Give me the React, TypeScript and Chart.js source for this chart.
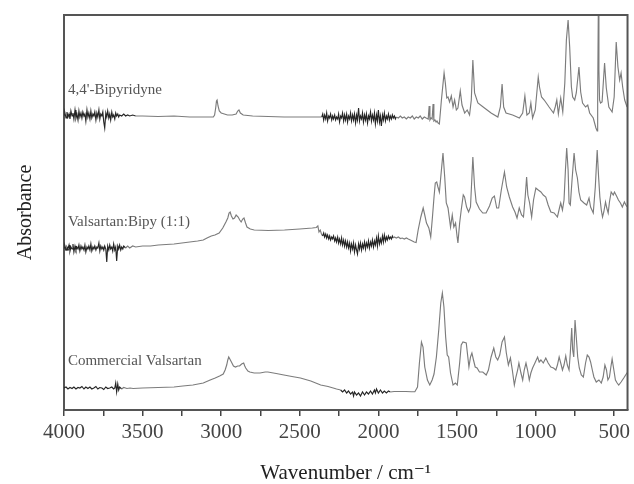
import React, { useEffect, useRef } from "react";
import { Chart, registerables } from "chart.js";

Chart.register(...registerables);

// ---- axis settings (wavenumber, cm-1; absorbance in arbitrary, offset units)
const xMin = 415;
const xMax = 4000;
const xTickStep = 250;
const xLabelStep = 500;
const yMin = 0;
const yMax = 3.95;
const yTickValues = [1.6];

// ---- trace names and label anchors
const seriesNames = ["4,4'-Bipyridyne", "Valsartan:Bipy (1:1)", "Commercial Valsartan"];
const labelWavenumber = 3975;
const labelAbsorbance = [3.2, 1.88, 0.49];

// ---- noisy (dense, dark-looking) wavenumber ranges of each trace
const bipyNoise: [number, number][] = [[4000, 3540], [2365, 1880]];
const cocrystalNoise: [number, number][] = [[4000, 3600], [2360, 1900]];
const valsartanNoise: [number, number][] = [[4000, 3630], [2245, 1920]];

// ---- spectra: [wavenumber, absorbance (offset)]
const bipySpectrum: [number, number][] = [
  [4000, 2.95], [3994, 2.97], [3987, 2.92], [3981, 2.98], [3975, 2.93], [3968, 2.96], [3962, 2.91], [3956, 2.99],
  [3949, 2.94], [3943, 2.97], [3937, 2.91], [3930, 3.0], [3924, 2.92], [3918, 2.96], [3911, 2.9], [3905, 2.99],
  [3899, 2.93], [3892, 2.97], [3886, 2.92], [3880, 2.98], [3873, 2.94], [3867, 2.96], [3861, 2.89], [3854, 3.0],
  [3848, 2.93], [3842, 2.97], [3835, 2.91], [3829, 2.99], [3823, 2.92], [3816, 2.96], [3810, 2.94], [3804, 2.98],
  [3797, 2.9], [3791, 2.97], [3785, 2.93], [3778, 3.0], [3772, 2.91], [3766, 2.96], [3759, 2.94], [3753, 2.98],
  [3747, 2.88], [3741, 2.82], [3734, 2.97], [3728, 2.93], [3722, 2.99], [3715, 2.92], [3709, 2.96], [3703, 2.9],
  [3696, 2.98], [3690, 2.93], [3684, 2.95], [3677, 2.91], [3671, 2.97], [3665, 2.94], [3658, 2.96], [3652, 2.93],
  [3646, 2.95], [3633, 2.94], [3620, 2.96], [3608, 2.94], [3595, 2.95], [3582, 2.94], [3563, 2.95], [3544, 2.94],
  [3500, 2.94], [3400, 2.935], [3300, 2.94], [3200, 2.93], [3100, 2.93], [3050, 2.93], [3042, 2.95], [3035, 3.02],
  [3030, 3.09], [3026, 3.1], [3020, 3.04], [3012, 2.99], [3000, 2.97], [2980, 2.96], [2960, 2.95], [2930, 2.95],
  [2905, 2.96], [2895, 2.99], [2887, 3.0], [2878, 2.97], [2860, 2.95], [2800, 2.94], [2700, 2.935], [2600, 2.93],
  [2500, 2.93], [2420, 2.93], [2360, 2.93], [2354, 2.96], [2348, 2.9], [2342, 2.95], [2335, 2.91], [2329, 2.97],
  [2323, 2.89], [2316, 2.94], [2310, 2.92], [2304, 2.96], [2297, 2.9], [2291, 2.94], [2285, 2.91], [2278, 2.95],
  [2272, 2.9], [2266, 2.93], [2259, 2.91], [2253, 2.96], [2247, 2.88], [2240, 2.94], [2234, 2.92], [2228, 2.97],
  [2221, 2.89], [2215, 2.95], [2209, 2.9], [2202, 2.96], [2196, 2.88], [2190, 2.94], [2183, 2.91], [2177, 2.97],
  [2171, 2.89], [2164, 2.95], [2158, 2.9], [2152, 2.96], [2145, 2.87], [2139, 2.95], [2133, 2.9], [2126, 3.02],
  [2120, 2.89], [2114, 2.94], [2107, 2.91], [2101, 2.97], [2095, 2.88], [2088, 2.95], [2082, 2.9], [2076, 2.96],
  [2069, 2.87], [2063, 2.94], [2057, 2.91], [2050, 2.98], [2044, 2.89], [2038, 2.95], [2031, 2.9], [2025, 2.97],
  [2019, 2.86], [2012, 2.95], [2006, 2.89], [2000, 3.0], [1993, 2.88], [1987, 2.94], [1981, 2.84], [1974, 2.95],
  [1968, 2.9], [1962, 2.97], [1955, 2.89], [1949, 2.94], [1943, 2.91], [1936, 2.96], [1930, 2.9], [1924, 2.94],
  [1917, 2.91], [1911, 2.95], [1905, 2.92], [1898, 2.94], [1892, 2.91], [1886, 2.93], [1873, 2.92], [1860, 2.94],
  [1848, 2.92], [1835, 2.93], [1822, 2.91], [1810, 2.93], [1797, 2.92], [1784, 2.94], [1772, 2.91], [1759, 2.93],
  [1746, 2.92], [1734, 2.94], [1721, 2.91], [1708, 2.93], [1696, 2.92], [1683, 2.91], [1677, 3.04], [1672, 2.9],
  [1665, 2.92], [1658, 2.91], [1652, 3.06], [1647, 2.89], [1640, 2.9], [1633, 2.88], [1627, 2.89], [1620, 2.87],
  [1612, 2.86], [1599, 3.1], [1582, 3.37], [1574, 3.27], [1565, 3.12], [1557, 3.13], [1547, 3.08], [1536, 3.14],
  [1525, 3.03], [1515, 3.1], [1504, 3.0], [1494, 3.02], [1479, 3.19], [1468, 3.05], [1451, 2.97], [1435, 3.0],
  [1420, 2.95], [1409, 3.1], [1399, 3.5], [1388, 3.17], [1367, 3.07], [1325, 3.02], [1283, 2.97], [1240, 2.93],
  [1224, 3.03], [1213, 3.26], [1203, 3.03], [1188, 2.97], [1146, 2.95], [1103, 2.92], [1082, 2.97], [1068, 3.14],
  [1055, 2.95], [1040, 2.97], [1030, 3.07], [1019, 2.92], [1002, 3.0], [983, 3.33], [975, 3.23], [962, 3.13],
  [945, 3.1], [914, 3.03], [886, 2.97], [875, 3.03], [865, 3.1], [855, 2.96], [840, 3.12], [827, 2.98],
  [814, 3.27], [804, 3.7], [793, 3.9], [783, 3.63], [772, 3.23], [764, 3.13], [751, 3.1], [741, 3.17],
  [724, 3.43], [713, 3.18], [701, 3.07], [682, 3.03], [668, 3.05], [656, 2.97], [633, 2.92], [616, 2.82],
  [608, 2.79], [605, 3.1], [601, 3.97], [597, 3.4], [593, 3.1], [587, 3.07], [577, 3.08], [561, 3.47],
  [550, 3.22], [534, 3.03], [513, 2.98], [500, 3.13], [487, 3.68], [476, 3.43], [465, 3.3], [456, 3.37],
  [446, 3.23], [433, 3.1], [418, 3.03],
];

const cocrystalSpectrum: [number, number][] = [
  [4000, 1.62], [3994, 1.64], [3987, 1.6], [3981, 1.63], [3975, 1.61], [3968, 1.65], [3962, 1.59], [3956, 1.63],
  [3949, 1.61], [3943, 1.66], [3937, 1.58], [3930, 1.64], [3924, 1.6], [3918, 1.63], [3911, 1.61], [3905, 1.65],
  [3899, 1.59], [3892, 1.64], [3886, 1.61], [3880, 1.63], [3873, 1.6], [3867, 1.65], [3861, 1.58], [3854, 1.63],
  [3848, 1.61], [3842, 1.64], [3835, 1.6], [3829, 1.66], [3823, 1.59], [3816, 1.63], [3810, 1.61], [3804, 1.64],
  [3797, 1.6], [3791, 1.63], [3785, 1.62], [3778, 1.67], [3772, 1.59], [3766, 1.64], [3759, 1.61], [3753, 1.63],
  [3747, 1.6], [3741, 1.64], [3734, 1.61], [3728, 1.48], [3722, 1.64], [3715, 1.6], [3709, 1.65], [3703, 1.61],
  [3696, 1.63], [3690, 1.59], [3684, 1.66], [3677, 1.6], [3671, 1.63], [3665, 1.49], [3658, 1.64], [3652, 1.61],
  [3646, 1.65], [3639, 1.6], [3633, 1.63], [3626, 1.61], [3620, 1.64], [3608, 1.62], [3595, 1.64], [3582, 1.62],
  [3563, 1.64], [3544, 1.63], [3500, 1.64], [3450, 1.64], [3400, 1.65], [3350, 1.655], [3300, 1.66], [3250, 1.67],
  [3200, 1.68], [3150, 1.69], [3114, 1.7], [3090, 1.72], [3063, 1.74], [3040, 1.75], [3013, 1.77], [2990, 1.82],
  [2970, 1.88], [2958, 1.92], [2950, 1.97], [2943, 1.98], [2935, 1.94], [2925, 1.91], [2915, 1.92], [2905, 1.95],
  [2892, 1.93], [2882, 1.9], [2873, 1.88], [2863, 1.91], [2855, 1.92], [2845, 1.87], [2836, 1.83], [2815, 1.81],
  [2790, 1.8], [2700, 1.795], [2597, 1.8], [2500, 1.81], [2420, 1.82], [2395, 1.825], [2385, 1.84], [2378, 1.78],
  [2370, 1.8], [2362, 1.76], [2355, 1.74], [2348, 1.77], [2342, 1.73], [2335, 1.76], [2329, 1.72], [2323, 1.75],
  [2316, 1.71], [2310, 1.74], [2304, 1.7], [2297, 1.73], [2291, 1.71], [2285, 1.74], [2278, 1.69], [2272, 1.72],
  [2266, 1.68], [2259, 1.73], [2253, 1.67], [2247, 1.71], [2240, 1.66], [2234, 1.72], [2228, 1.65], [2221, 1.7],
  [2215, 1.64], [2209, 1.69], [2202, 1.63], [2196, 1.68], [2190, 1.62], [2183, 1.67], [2177, 1.59], [2171, 1.66],
  [2164, 1.61], [2158, 1.67], [2152, 1.58], [2145, 1.65], [2139, 1.6], [2133, 1.56], [2126, 1.66], [2120, 1.61],
  [2114, 1.67], [2107, 1.6], [2101, 1.66], [2095, 1.62], [2088, 1.68], [2082, 1.61], [2076, 1.67], [2069, 1.63],
  [2063, 1.69], [2057, 1.62], [2050, 1.68], [2044, 1.64], [2038, 1.7], [2031, 1.63], [2025, 1.69], [2019, 1.65],
  [2012, 1.72], [2006, 1.64], [2000, 1.74], [1993, 1.66], [1987, 1.71], [1981, 1.67], [1974, 1.74], [1968, 1.68],
  [1962, 1.75], [1955, 1.69], [1949, 1.73], [1943, 1.7], [1936, 1.74], [1930, 1.71], [1924, 1.73], [1917, 1.71],
  [1911, 1.74], [1905, 1.72], [1898, 1.73], [1886, 1.72], [1873, 1.73], [1860, 1.715], [1848, 1.72], [1835, 1.71],
  [1822, 1.72], [1810, 1.71], [1797, 1.7], [1784, 1.69], [1772, 1.68], [1760, 1.675], [1747, 1.8], [1730, 1.93],
  [1715, 2.02], [1705, 1.95], [1694, 1.87], [1679, 1.82], [1667, 1.73], [1656, 1.93], [1646, 2.13], [1638, 2.27],
  [1629, 2.28], [1621, 2.23], [1612, 2.18], [1599, 2.4], [1589, 2.57], [1578, 2.33], [1568, 2.07], [1557, 2.02],
  [1547, 1.9], [1541, 1.83], [1530, 1.95], [1520, 1.83], [1509, 1.87], [1499, 1.73], [1494, 1.67], [1483, 1.87],
  [1473, 2.0], [1460, 2.15], [1452, 2.13], [1439, 2.03], [1426, 1.98], [1414, 2.03], [1399, 2.53], [1388, 2.23],
  [1378, 2.08], [1357, 2.01], [1336, 1.97], [1315, 1.97], [1293, 2.04], [1276, 2.12], [1262, 2.14], [1247, 2.02],
  [1235, 2.02], [1218, 2.2], [1198, 2.38], [1184, 2.23], [1167, 2.13], [1146, 2.03], [1131, 1.98], [1118, 1.92],
  [1104, 2.02], [1089, 1.95], [1077, 1.93], [1066, 2.13], [1057, 2.33], [1049, 2.15], [1038, 2.07], [1025, 1.93],
  [1013, 2.1], [998, 2.22], [983, 2.2], [966, 2.18], [951, 2.15], [935, 2.13], [920, 2.05], [903, 1.98],
  [882, 1.97], [861, 1.93], [848, 2.02], [840, 2.07], [829, 2.0], [819, 2.1], [810, 2.4], [802, 2.62],
  [793, 2.4], [787, 2.07], [779, 2.05], [768, 2.3], [755, 2.57], [745, 2.4], [734, 2.32], [724, 2.18],
  [713, 2.1], [692, 2.07], [675, 2.05], [660, 2.12], [650, 2.03], [633, 1.97], [620, 2.23], [608, 2.6],
  [599, 2.33], [591, 2.13], [582, 2.0], [574, 1.93], [566, 1.98], [555, 2.08], [547, 2.02], [538, 1.97],
  [530, 2.08], [519, 2.18], [506, 2.15], [498, 2.18], [485, 2.14], [473, 2.1], [460, 2.07], [448, 2.03],
  [435, 2.08], [422, 2.04], [414, 2.03],
];

const valsartanSpectrum: [number, number][] = [
  [4000, 0.22], [3987, 0.23], [3975, 0.21], [3962, 0.225], [3949, 0.215], [3937, 0.23], [3924, 0.21], [3911, 0.225],
  [3899, 0.22], [3886, 0.235], [3873, 0.21], [3861, 0.23], [3848, 0.215], [3835, 0.23], [3823, 0.21], [3810, 0.22],
  [3797, 0.235], [3785, 0.21], [3772, 0.225], [3759, 0.22], [3747, 0.205], [3734, 0.23], [3722, 0.215], [3709, 0.22],
  [3696, 0.23], [3684, 0.21], [3677, 0.22], [3671, 0.27], [3665, 0.18], [3658, 0.26], [3652, 0.2], [3646, 0.23],
  [3633, 0.21], [3620, 0.225], [3600, 0.215], [3580, 0.22], [3560, 0.215], [3500, 0.22], [3400, 0.225], [3300, 0.23],
  [3244, 0.24], [3180, 0.25], [3114, 0.27], [3070, 0.3], [3038, 0.32], [3010, 0.34], [2987, 0.36], [2975, 0.4],
  [2965, 0.45], [2958, 0.5], [2952, 0.53], [2945, 0.51], [2935, 0.48], [2922, 0.44], [2909, 0.43], [2895, 0.44],
  [2883, 0.44], [2870, 0.46], [2857, 0.47], [2850, 0.44], [2844, 0.42], [2830, 0.39], [2818, 0.38], [2790, 0.37],
  [2753, 0.37], [2720, 0.38], [2703, 0.38], [2650, 0.365], [2601, 0.35], [2550, 0.335], [2496, 0.32], [2430, 0.29],
  [2367, 0.25], [2320, 0.235], [2266, 0.21], [2240, 0.2], [2228, 0.18], [2215, 0.2], [2202, 0.17], [2190, 0.19],
  [2177, 0.16], [2164, 0.18], [2158, 0.14], [2152, 0.18], [2139, 0.15], [2126, 0.17], [2114, 0.14], [2101, 0.18],
  [2088, 0.15], [2076, 0.18], [2063, 0.16], [2050, 0.19], [2038, 0.16], [2025, 0.2], [2019, 0.17], [2012, 0.21],
  [2000, 0.17], [1987, 0.2], [1974, 0.17], [1962, 0.19], [1949, 0.17], [1936, 0.19], [1924, 0.18], [1900, 0.185],
  [1860, 0.185], [1825, 0.185], [1790, 0.183], [1768, 0.183], [1751, 0.23], [1739, 0.47], [1726, 0.68], [1716, 0.63],
  [1705, 0.43], [1688, 0.3], [1673, 0.25], [1658, 0.3], [1646, 0.36], [1631, 0.53], [1616, 0.8], [1603, 1.07],
  [1593, 1.17], [1583, 1.03], [1572, 0.73], [1562, 0.55], [1553, 0.53], [1541, 0.37], [1525, 0.25], [1510, 0.27],
  [1498, 0.25], [1483, 0.47], [1473, 0.65], [1462, 0.68], [1441, 0.67], [1431, 0.53], [1424, 0.43], [1414, 0.53],
  [1405, 0.57], [1395, 0.5], [1384, 0.43], [1372, 0.42], [1357, 0.38], [1336, 0.38], [1314, 0.35], [1300, 0.4],
  [1283, 0.53], [1266, 0.62], [1253, 0.53], [1241, 0.5], [1228, 0.55], [1213, 0.68], [1198, 0.73], [1186, 0.57],
  [1173, 0.45], [1160, 0.52], [1148, 0.4], [1135, 0.25], [1125, 0.33], [1114, 0.4], [1106, 0.47], [1093, 0.37],
  [1082, 0.3], [1072, 0.4], [1061, 0.47], [1051, 0.4], [1040, 0.3], [1030, 0.37], [1019, 0.42], [1004, 0.47],
  [987, 0.53], [977, 0.48], [966, 0.5], [951, 0.47], [935, 0.52], [920, 0.47], [903, 0.43], [886, 0.42],
  [871, 0.4], [861, 0.45], [850, 0.53], [840, 0.47], [829, 0.4], [819, 0.45], [808, 0.54], [798, 0.45],
  [787, 0.4], [779, 0.57], [770, 0.82], [764, 0.6], [757, 0.53], [749, 0.9], [741, 0.73], [732, 0.53],
  [722, 0.42], [709, 0.35], [696, 0.33], [682, 0.47], [671, 0.55], [660, 0.53], [650, 0.48], [639, 0.4],
  [629, 0.33], [614, 0.28], [597, 0.3], [582, 0.27], [570, 0.33], [559, 0.45], [549, 0.4], [540, 0.3],
  [530, 0.33], [521, 0.43], [513, 0.51], [502, 0.4], [492, 0.3], [481, 0.27], [471, 0.25], [456, 0.28],
  [439, 0.32], [427, 0.35], [414, 0.38],
];

const spectra = [bipySpectrum, cocrystalSpectrum, valsartanSpectrum];
const noiseRanges = [bipyNoise, cocrystalNoise, valsartanNoise];

const FONT = "'Liberation Serif', 'DejaVu Serif', 'Times New Roman', serif";
const LINE_COLOR = "#7c7c7c";
const NOISE_COLOR = "#262626";
const AXIS_COLOR = "#555555";

const framePlugin = {
  id: "frameAndLabels",
  afterDatasetsDraw(chart: any) {
    const { ctx, chartArea, scales } = chart;
    ctx.save();
    // series labels
    ctx.fillStyle = "#555555";
    ctx.font = `15px ${FONT}`;
    ctx.textAlign = "left";
    ctx.textBaseline = "middle";
    seriesNames.forEach((name, i) => {
      ctx.fillText(
        name,
        scales.x.getPixelForValue(labelWavenumber),
        scales.y.getPixelForValue(labelAbsorbance[i])
      );
    });
    // top and right frame lines
    ctx.strokeStyle = AXIS_COLOR;
    ctx.lineWidth = 2;
    ctx.beginPath();
    ctx.moveTo(chartArea.left, chartArea.top);
    ctx.lineTo(chartArea.right, chartArea.top);
    ctx.lineTo(chartArea.right, chartArea.bottom);
    ctx.stroke();
    ctx.restore();
  },
};

const inRanges = (x: number, ranges: [number, number][]) =>
  ranges.some(([hi, lo]) => x <= hi && x >= lo);

export default function App() {
  const canvasRef = useRef<HTMLCanvasElement | null>(null);

  useEffect(() => {
    document.body.style.margin = "0";
    const canvas = canvasRef.current;
    if (!canvas) return;
    const chart = new Chart(canvas, {
      type: "line",
      data: {
        datasets: spectra.map((s, i) => ({
          label: seriesNames[i],
          data: s.map(([x, y]) => ({ x, y })),
          borderColor: LINE_COLOR,
          borderWidth: 1.15,
          pointRadius: 0,
          tension: 0,
          fill: false,
          segment: {
            borderColor: (ctx: any) =>
              inRanges(ctx.p0.parsed.x, noiseRanges[i]) && inRanges(ctx.p1.parsed.x, noiseRanges[i])
                ? NOISE_COLOR
                : LINE_COLOR,
          },
        })),
      },
      options: {
        animation: false,
        responsive: false,
        devicePixelRatio: 1,
        events: [],
        layout: { padding: { top: 15, right: 3.5, left: 0, bottom: 0 } },
        plugins: {
          legend: { display: false },
          tooltip: { enabled: false },
          title: { display: false },
        },
        scales: {
          x: {
            type: "linear",
            reverse: true,
            min: xMin,
            max: xMax,
            afterFit: (scale: any) => {
              scale.height = 74;
            },
            ticks: {
              stepSize: xTickStep,
              includeBounds: false,
              autoSkip: false,
              maxRotation: 0,
              padding: 4,
              color: "#444444",
              font: { family: FONT, size: 21 },
              callback: (v: any) => (Number(v) % xLabelStep === 0 ? String(v) : ""),
            },
            grid: {
              drawOnChartArea: false,
              drawTicks: true,
              tickLength: 6,
              color: "#444444",
              lineWidth: 1.5,
            },
            border: { display: true, color: AXIS_COLOR, width: 2 },
            title: {
              display: true,
              text: "Wavenumber / cm\u207B\u00B9",
              color: "#222222",
              font: { family: FONT, size: 21 },
              padding: { top: 0, bottom: -2 },
            },
          },
          y: {
            type: "linear",
            min: yMin,
            max: yMax,
            afterFit: (scale: any) => {
              scale.width = 64;
            },
            afterBuildTicks: (scale: any) => {
              scale.ticks = yTickValues.map((value) => ({ value }));
            },
            ticks: { display: false },
            grid: {
              drawOnChartArea: false,
              drawTicks: true,
              tickLength: -5,
              color: AXIS_COLOR,
              lineWidth: 1.5,
            },
            border: { display: true, color: AXIS_COLOR, width: 2 },
            title: {
              display: true,
              text: "Absorbance",
              color: "#222222",
              font: { family: FONT, size: 20 },
              padding: { top: 14, bottom: 0 },
            },
          },
        },
      },
      plugins: [framePlugin],
    } as any);
    return () => chart.destroy();
  }, []);

  return (
    <canvas
      ref={canvasRef}
      width={634}
      height={484}
      style={{ display: "block", width: 634, height: 484 }}
    />
  );
}
